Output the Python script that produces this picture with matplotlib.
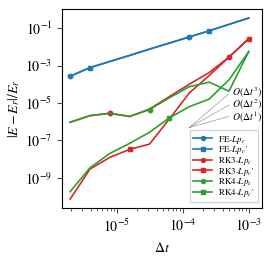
import numpy as np
import matplotlib.pyplot as plt

plt.rcParams['font.family'] = 'STIXGeneral'
plt.rcParams['mathtext.fontset'] = 'stix'

# time steps
dt = [1e-3 / 2**k for k in range(9, -1, -1)]

fe_lpc = [2.7e-4, 7.8e-4, 1.66e-3, 3.5e-3, 7.6e-3, 1.6e-2, 3.4e-2, 7.2e-2, 0.16, 0.35]
fe_lpc2 = [2.7e-4, 7.8e-4, 1.66e-3, 3.5e-3, 7.6e-3, 1.6e-2, 3.4e-2, 7.2e-2, 0.16, 0.35]
rk3_lpc = [9.3e-7, 2.1e-6, 2.8e-6, 1.9e-6, 4.7e-6, 2.2e-5, 1.0e-4, 4.2e-4, 2.8e-3, 2.75e-2]
rk3_lpc2 = [7.2e-11, 2.9e-9, 1.23e-8, 3.3e-8, 6.3e-8, 1.4e-6, 3.4e-5, 2.9e-4, 2.8e-3, 2.75e-2]
rk4_lpc = [9.3e-7, 2.1e-6, 2.8e-6, 1.9e-6, 4.4e-6, 1.9e-5, 7.4e-5, 1.3e-4, 4.3e-5, 5.6e-3]
rk4_lpc2 = [1.8e-10, 3.4e-9, 2.0e-8, 6.9e-8, 2.7e-7, 1.6e-6, 6.3e-6, 1.6e-5, 1.7e-4, 5.6e-3]

series = [
    ("FE-$Lp_c$", fe_lpc, '#1f77b4', 'o'),
    ("FE-$Lp_c$′", fe_lpc2, '#1f77b4', 's'),
    ("RK3-$Lp_c$", rk3_lpc, '#d62728', 'o'),
    ("RK3-$Lp_c$′", rk3_lpc2, '#d62728', 's'),
    ("RK4-$Lp_c$", rk4_lpc, '#2ca02c', 'o'),
    ("RK4-$Lp_c$′", rk4_lpc2, '#2ca02c', 's'),
]

# reference slopes
ref_x = [1.25e-4, 5e-4]
ref_y0 = 4.8e-7
ref_orders = [3, 2, 1]
ref_nudge = [1, 0, -1]

fig = plt.figure(figsize=(2.72, 2.56), dpi=100)
ax = fig.add_axes([0.228, 0.1875, 0.735, 0.7775])

for i, (lab, y, c, m) in enumerate(series):
    ax.plot(dt, y, color=c, marker=m, markersize=3.2, lw=1.2,
            markevery=(i, 6), label=lab)

for p, dy in zip(ref_orders, ref_nudge):
    ys = [ref_y0, ref_y0 * (ref_x[1] / ref_x[0])**p]
    ax.plot(ref_x, ys, color='gray', lw=0.5, alpha=0.8)
    ax.annotate(r'$O(\Delta t^{%d})$' % p, (ref_x[1], ys[1]),
                xytext=(2, dy), textcoords='offset points',
                fontsize=7, va='center', ha='left')

ax.set_xscale('log')
ax.set_yscale('log')
ax.set_xlim(10**-5.833, 10**-2.80)
ax.set_ylim(10**-10.62, 10**0.03)
ax.set_yticks([1e-1, 1e-3, 1e-5, 1e-7, 1e-9])
ax.yaxis.set_minor_locator(plt.NullLocator())
ax.set_xticks([1e-5, 1e-4, 1e-3])
ax.tick_params(labelsize=10, color='0.3', length=3.5)
ax.tick_params(which='minor', length=2, color='0.3')
ax.set_xlabel(r'$\Delta t$', fontsize=10)
ax.set_ylabel(r'$|E-E_r|/E_r$', fontsize=10, labelpad=2)

ax.legend(loc='lower right', bbox_to_anchor=(0.978, 0.03), borderaxespad=0,
          fontsize=6.5, fancybox=False, edgecolor='0.8', markerscale=0.9,
          handlelength=2.1, handletextpad=0.6, borderpad=0.35, labelspacing=-0.15)

fig.savefig('out.png', dpi=100)
